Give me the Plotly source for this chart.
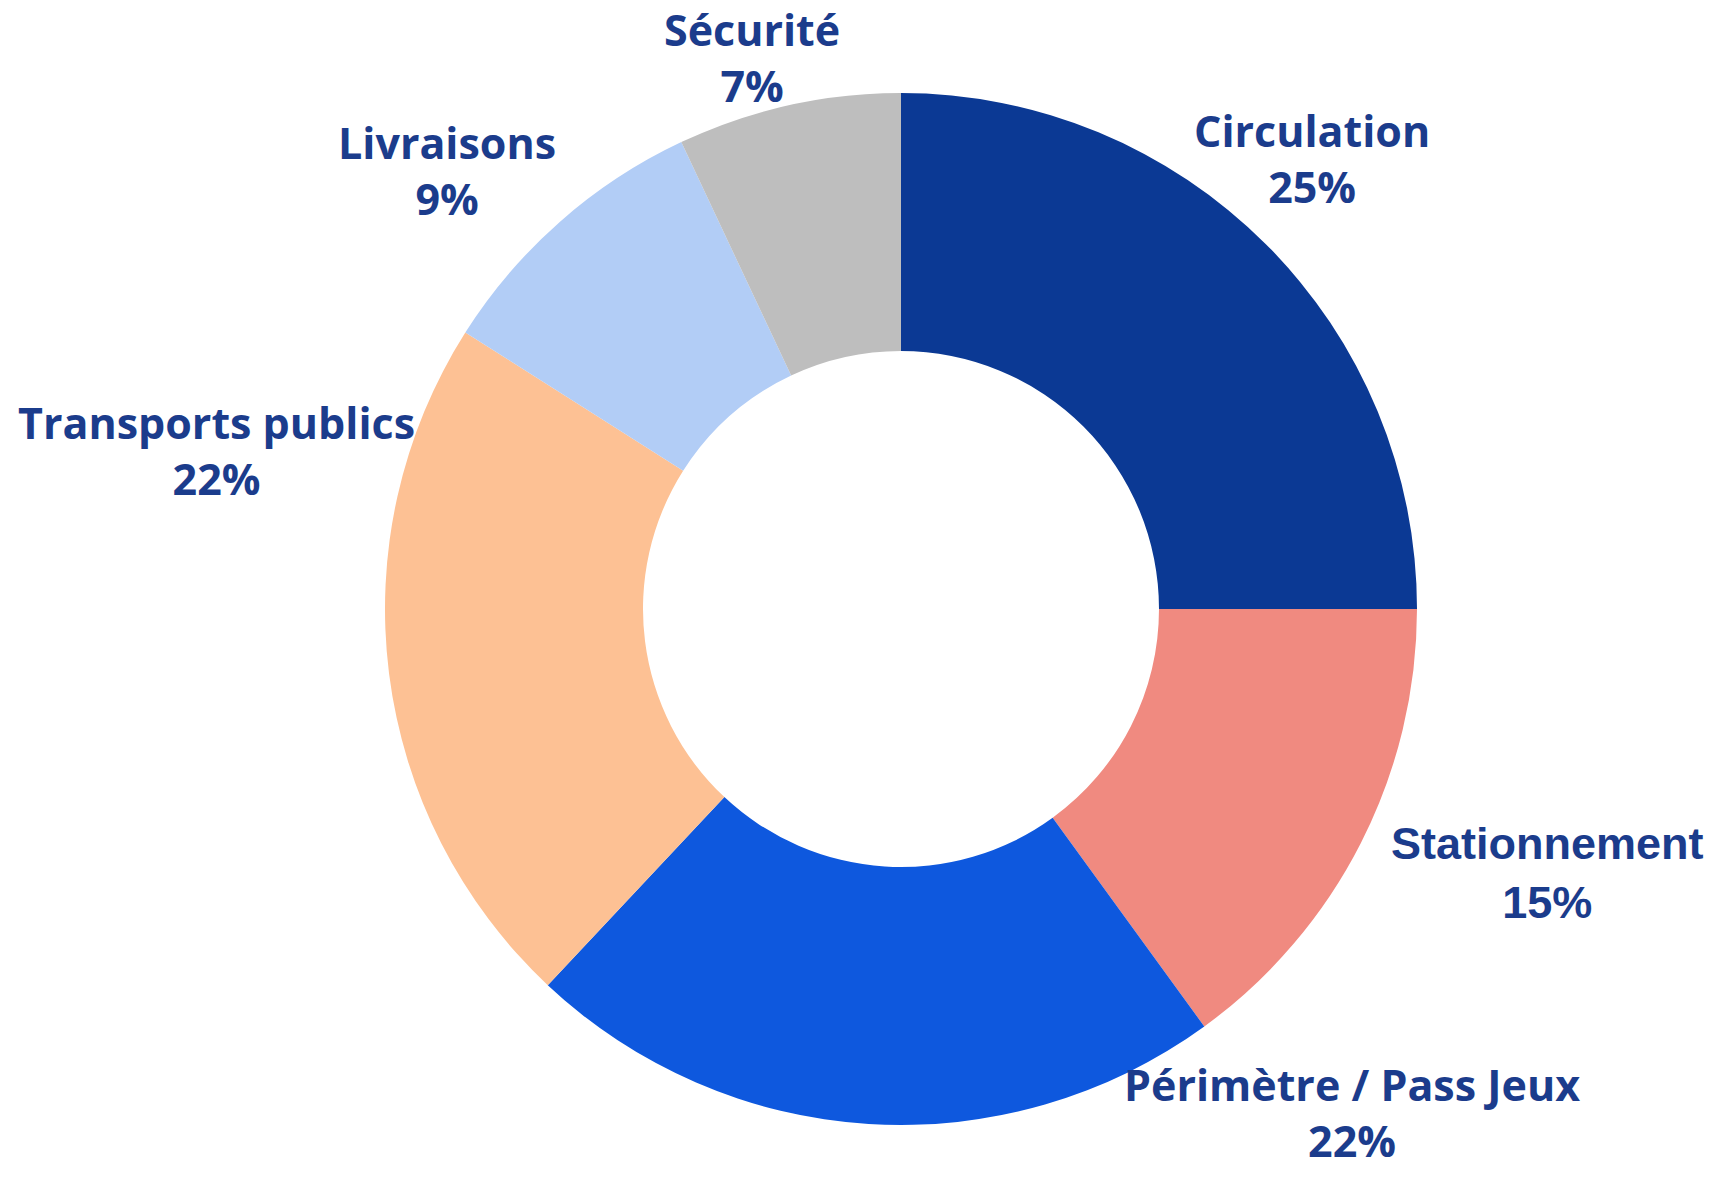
import plotly.graph_objects as go

categories = ["Circulation", "Stationnement", "Périmètre / Pass Jeux",
              "Transports publics", "Livraisons", "Sécurité"]
values = [25, 15, 22, 22, 9, 7]
colors = ["#0b3994", "#f08a80", "#0e58de", "#fdc194", "#b2cdf6", "#bebebe"]
fonts = ["Open Sans", "Liberation Sans", "Open Sans",
         "Open Sans", "Open Sans", "Open Sans"]
font_sizes = [43, 45, 43, 43, 43, 43]
# label block centres (pixels from top-left of the figure)
label_pos = [(1312, 159), (1547, 873), (1352, 1112),
             (216, 451), (447, 170), (752, 58)]

W, H = 1719, 1177
cx, cy, R = 901, 609, 516

fig = go.Figure(go.Pie(
    labels=categories,
    values=values,
    hole=0.5,
    sort=False,
    direction="clockwise",
    rotation=0,
    marker=dict(colors=colors, line=dict(width=0)),
    textposition="none",
    hoverinfo="label+percent",
    showlegend=False,
    domain=dict(x=[(cx - R) / W, (cx + R) / W],
                y=[(H - cy - R) / H, (H - cy + R) / H]),
))

total = sum(values)
for cat, val, fam, fs, (px, py) in zip(categories, values, fonts, font_sizes, label_pos):
    pct = round(val / total * 100)
    fig.add_annotation(
        x=px / W, y=1 - py / H, xref="paper", yref="paper",
        xanchor="center", yanchor="middle", showarrow=False,
        text=f"<b>{cat}</b><br><b>{pct}%</b>",
        font=dict(size=fs, color="#1b3c8c", family=fam),
        align="center",
    )

fig.update_layout(
    width=W, height=H,
    margin=dict(l=0, r=0, t=0, b=0),
    paper_bgcolor="white",
    plot_bgcolor="white",
)
fig.write_html("out.html")
